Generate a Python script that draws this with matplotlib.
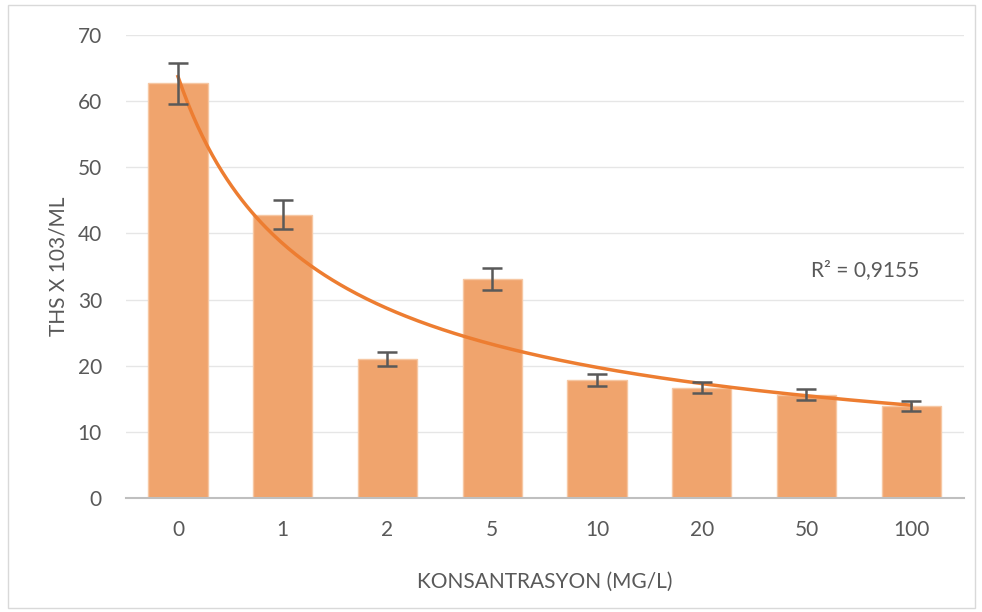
import numpy as np
import matplotlib
matplotlib.use("Agg")
import matplotlib.pyplot as plt
from matplotlib.patches import Rectangle

categories = ["0", "1", "2", "5", "10", "20", "50", "100"]
values = [62.7, 42.8, 21.0, 33.1, 17.9, 16.7, 15.6, 13.9]
errors = [3.1, 2.2, 1.1, 1.7, 0.9, 0.9, 0.85, 0.75]
y_ticks = [0, 10, 20, 30, 40, 50, 60, 70]
r2_label = "R² = 0,9155"

plt.rcParams['font.family'] = ['Lato', 'DejaVu Sans']

fig = plt.figure(figsize=(9.82, 6.12), dpi=100)
ax = fig.add_axes([125.6 / 982, 1 - 498 / 612, (963.6 - 125.6) / 982, (498 - 35) / 612])

x = np.arange(len(categories))
ax.bar(x, values, width=0.565, color='#F0A46D', edgecolor='#F6C7A3', linewidth=1, zorder=2)
ax.errorbar(x, values, yerr=errors, fmt='none', ecolor='#595959', elinewidth=1.8,
            capsize=7, capthick=1.8, zorder=4)

# Power trendline fitted on category index (1..n)
xi = x + 1
b, ln_a = np.polyfit(np.log(xi), np.log(values), 1)
xs = np.linspace(1, len(categories), 300)
ys = np.exp(ln_a) * xs ** b
ax.plot(xs - 1, ys, color='#ED7D31', linewidth=2.5, zorder=3)

ax.text(6.04, 34.5, r2_label, fontsize=15, color='#595959', va='center', ha='left')

ax.set_xlim(-0.5, len(categories) - 0.5)
ax.set_ylim(0, 70)
ax.set_yticks(y_ticks)
ax.set_xticks(x)
ax.set_xticklabels(categories)
ax.grid(axis='y', color='#E6E6E6', linewidth=1, zorder=0)
ax.set_axisbelow(True)
for s in ['top', 'right', 'left']:
    ax.spines[s].set_visible(False)
ax.spines['bottom'].set_color('#BFBFBF')
ax.spines['bottom'].set_linewidth(1.5)
ax.tick_params(axis='both', length=0, labelsize=15, labelcolor='#595959')
ax.tick_params(axis='y', pad=17)
ax.tick_params(axis='x', pad=16)

ax.set_xlabel("KONSANTRASYON (MG/L)", fontsize=15, color='#595959', labelpad=23)
ax.set_ylabel("THS X 103/ML", fontsize=15, color='#595959')
ax.yaxis.set_label_coords(-0.068, 0.5)

fig.patches.append(Rectangle((8 / 982, 4 / 612), 967 / 982, 603 / 612, transform=fig.transFigure,
                             fill=False, edgecolor='#D9D9D9', linewidth=1))

fig.savefig("out.png", dpi=100)
